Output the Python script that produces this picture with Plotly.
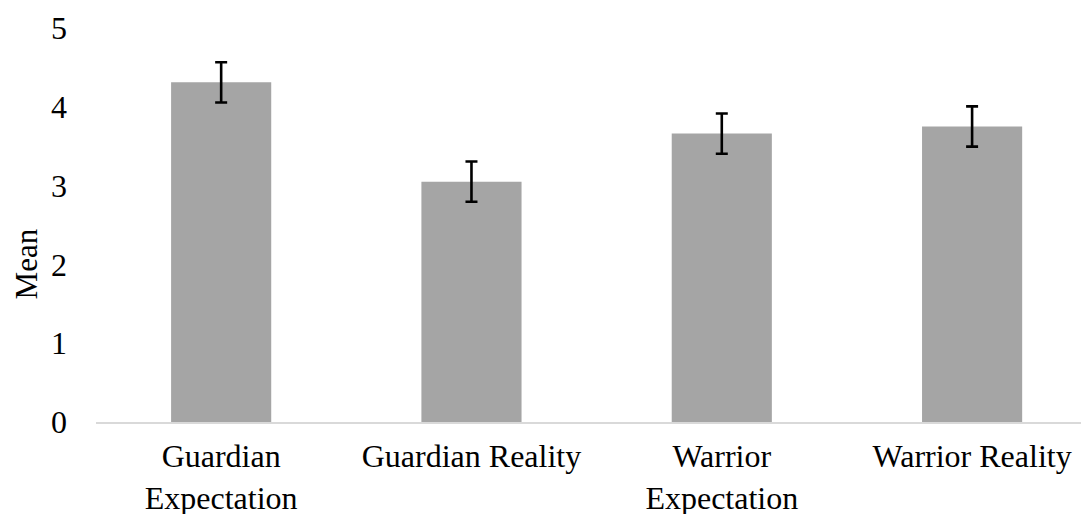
import plotly.graph_objects as go

categories = ["Guardian<br>Expectation", "Guardian Reality", "Warrior<br>Expectation", "Warrior Reality"]
means = [4.31, 3.05, 3.66, 3.75]
errors = [0.255, 0.255, 0.255, 0.255]
y_ticks = [0, 1, 2, 3, 4, 5]

font_family = "Liberation Serif"
fsize = 32

fig = go.Figure(
    go.Bar(
        x=categories,
        y=means,
        marker=dict(color="#A5A5A5", line=dict(width=0)),
        error_y=dict(type="data", array=errors, visible=True, color="#000000", thickness=2.6, width=6),
    )
)

fig.update_layout(
    width=1089,
    height=514,
    margin=dict(l=88, r=8, t=19.5, b=99.5),
    paper_bgcolor="white",
    plot_bgcolor="white",
    bargap=0.6,
    showlegend=False,
    font=dict(family=font_family, size=fsize, color="#000000"),
    annotations=[
        dict(
            text="Mean",
            textangle=-90,
            xref="paper",
            yref="y",
            x=0,
            y=2.0,
            xshift=-70,
            xanchor="center",
            yanchor="middle",
            showarrow=False,
            font=dict(size=31, family=font_family, color="#000000"),
        )
    ],
)

fig.update_xaxes(
    range=[-0.5, 3.467],
    showline=True,
    linecolor="#D9D9D9",
    linewidth=1.5,
    showgrid=False,
    ticks="",
    tickfont=dict(size=fsize, family=font_family),
    ticklabelstandoff=5,
    automargin=False,
)

fig.update_yaxes(
    range=[0, 5],
    tickvals=y_ticks,
    showline=False,
    showgrid=False,
    zeroline=False,
    ticks="",
    tickfont=dict(size=fsize, family=font_family),
    ticklabelstandoff=28,
    automargin=False,
)

fig.write_html("out.html")
